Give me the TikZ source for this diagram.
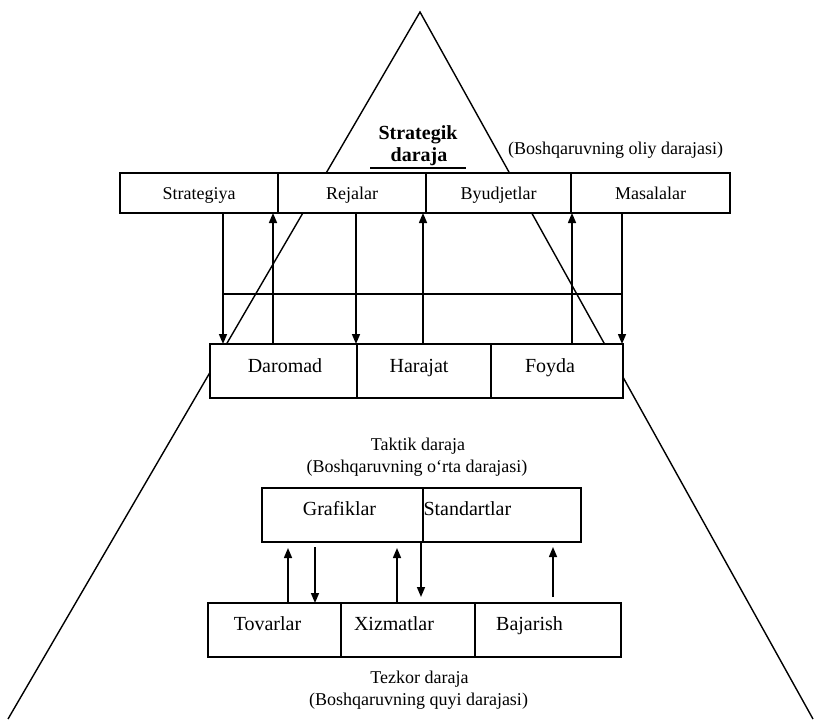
\documentclass[tikz,border=0pt]{standalone}
\usepackage{fontspec}
\setmainfont{Liberation Serif}
\usetikzlibrary{arrows.meta}
\begin{document}
\begin{tikzpicture}[x=1pt,y=-1pt,
  every node/.style={inner sep=0pt, outer sep=0pt},
  edge line/.style={line width=1.4pt},
  cell/.style={draw, line width=1.7pt, fill=white, anchor=north west},
  small/.style={font=\fontsize{18}{20}\selectfont},
  rowtext/.style={small, text height=14pt, text depth=2pt},
  big/.style={font=\fontsize{20}{22}\selectfont},
  title/.style={font=\bfseries\fontsize{20}{22}\selectfont},
  arr/.style={line width=1.5pt, -{Triangle[length=10pt,width=8pt]}},
  bar/.style={line width=2.6pt},
]
\useasboundingbox (0,0) rectangle (814,728);

% pyramid outline
\coordinate (apex) at (420,12);
\coordinate (bl) at (8,719);
\coordinate (br) at (813,719);
\draw[edge line] (bl) -- (apex) -- (br);

% strategic level title
\node[title, anchor=base] (sTitle1) at (418,139) {Strategik};
\node[title, anchor=base] (sTitle2) at (419,161) {daraja};
\coordinate (ulA) at (370,168);
\coordinate (ulB) at (466,168);
\draw[edge line] (ulA) -- (ulB);
\node[small, anchor=base] (sNote) at (615.5,154) {(Boshqaruvning oliy darajasi)};

% top row
\node[cell, rowtext, minimum width=158pt, minimum height=40pt] (strat) at (120,173) {Strategiya};
\node[cell, rowtext, minimum width=148pt, minimum height=40pt] (rej)   at (278,173) {Rejalar};
\node[cell, rowtext, minimum width=145pt, minimum height=40pt] (byud)  at (426,173) {Byudjetlar};
\node[cell, rowtext, minimum width=159pt, minimum height=40pt] (mas)   at (571,173) {Masalalar};

% middle row (cells)
\node[cell, minimum width=147pt, minimum height=54pt] (dar) at (210,344) {};
\node[cell, minimum width=134pt, minimum height=54pt] (har) at (357,344) {};
\node[cell, minimum width=132pt, minimum height=54pt] (foy) at (491,344) {};
\node[big, anchor=base] (darT) at (285,372) {Daromad};
\node[big, anchor=base] (harT) at (419,372) {Harajat};
\node[big, anchor=base] (foyT) at (550,372) {Foyda};

% arrows between top row and middle row
\coordinate (a1) at (223,0);
\coordinate (a2) at (273,0);
\coordinate (a3) at (356,0);
\coordinate (a4) at (423,0);
\coordinate (a5) at (572,0);
\coordinate (a6) at (622,0);
\draw[arr] (strat.south -| a1) -- (dar.north -| a1);
\draw[arr] (dar.north -| a2) -- (strat.south -| a2);
\draw[arr] (rej.south -| a3) -- (dar.north -| a3);
\draw[arr] (har.north -| a4) -- (rej.south -| a4);
\draw[arr] (foy.north -| a5) -- (mas.south -| a5);
\draw[arr] (mas.south -| a6) -- (foy.north -| a6);
\coordinate (barL) at (223,294);
\coordinate (barR) at (621,294);
\draw[bar] (barL) -- (barR);

% tactical level
\node[small, anchor=base] (tTitle) at (418,450) {Taktik daraja};
\node[small, anchor=base] (tNote) at (417,472) {(Boshqaruvning o‘rta darajasi)};
\node[cell, minimum width=161pt, minimum height=54pt] (graf) at (262,488) {};
\node[cell, minimum width=158pt, minimum height=54pt] (stand) at (423,488) {};
\node[big, anchor=base] (grafT) at (339.5,515) {Grafiklar};
\node[big, anchor=base west] (standT) at (423.5,515) {Standartlar};

% operational level
\node[cell, minimum width=133pt, minimum height=54pt] (tov) at (208,603) {};
\node[cell, minimum width=134pt, minimum height=54pt] (xiz) at (341,603) {};
\node[cell, minimum width=146pt, minimum height=54pt] (baj) at (475,603) {};
\node[big, anchor=base] (tovT) at (267.5,630) {Tovarlar};
\node[big, anchor=base] (xizT) at (394,630) {Xizmatlar};
\node[big, anchor=base] (bajT) at (529.5,630) {Bajarish};
\node[small, anchor=base] (oTitle) at (419.5,683) {Tezkor daraja};
\node[small, anchor=base] (oNote) at (418.5,705) {(Boshqaruvning quyi darajasi)};

% arrows between tactical and operational rows
\coordinate (b1) at (288,0);
\coordinate (b2) at (315,0);
\coordinate (b3) at (397,0);
\coordinate (b4) at (421,0);
\coordinate (b5) at (553,0);
\draw[arr, shorten >=6pt] (tov.north -| b1) -- (graf.south -| b1);
\draw[arr, shorten <=5pt] (graf.south -| b2) -- (tov.north -| b2);
\draw[arr, shorten >=6pt] (xiz.north -| b3) -- (graf.south -| b3);
\draw[arr, shorten >=6pt] (stand.south -| b4) -- (xiz.north -| b4);
\draw[arr, shorten <=6pt, shorten >=5pt] (baj.north -| b5) -- (stand.south -| b5);
\end{tikzpicture}
\end{document}
